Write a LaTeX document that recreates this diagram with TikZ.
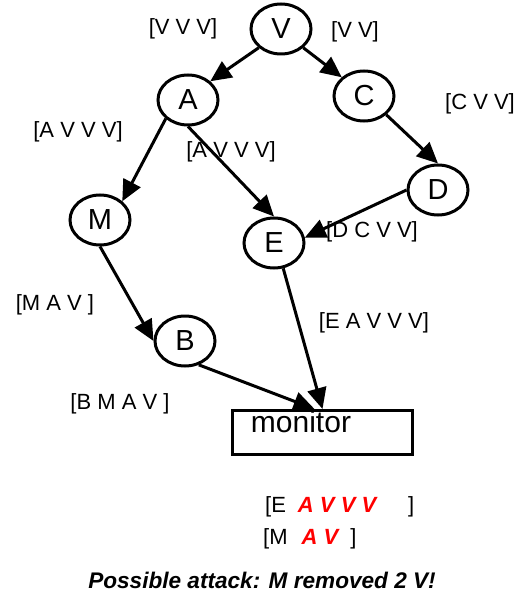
\documentclass[tikz,border=0pt]{standalone}
\usepackage{fontspec}
\setmainfont{Liberation Sans}
\usetikzlibrary{shapes.geometric,arrows.meta,calc}
\begin{document}
\begin{tikzpicture}[x=1pt,y=-1pt,
  vert/.style={ellipse,draw,line width=3pt,inner sep=0pt,minimum width=60pt,minimum height=50pt,font=\fontsize{29}{32}\selectfont},
  conn/.style={line width=3pt,-{Triangle[length=21pt,width=19pt]}},
  lab/.style={font=\fontsize{22}{25}\selectfont,inner sep=0pt}]
\useasboundingbox (0,0) rectangle (526,596);
\node[vert] (V) at (281,29) {V};
\node[vert] (A) at (188,100) {A};
\node[vert] (C) at (364,96) {C};
\node[vert] (D) at (438,190) {D};
\node[vert] (M) at (100,220) {M};
\node[vert] (E) at (274,243) {E};
\node[vert] (B) at (185,341) {B};
\node[draw,line width=3pt,minimum width=180pt,minimum height=44pt,inner sep=0pt] (mon) at (322.5,432.5) {};
\node[font=\fontsize{30}{33}\selectfont,inner sep=0pt] (montext) at (301,422) {monitor};
\coordinate (monB) at ($(mon.north)+(-8,0)$);
\draw[conn] (V.south west) -- (A.north east);
\draw[conn] (V.south east) -- (C.north west);
\draw[conn] (A.south west) -- (M.north east);
\draw[conn] (A.south) -- (E.north);
\draw[conn] (C.south east) -- (D.north);
\draw[conn] (D.west) -- (E.10);
\draw[conn] (M.south) -- (B.west);
\draw[conn] (B.-60) -- (monB);
\draw[conn] (E.-70) -- (mon.north);
\node[lab] (l1) at (183,29) {[V V V]};
\node[lab] (l2) at (355,32) {[V V]};
\node[lab] (l3) at (480,104) {[C V V]};
\node[lab] (l4) at (78,132) {[A V V V]};
\node[lab] (l5) at (231,152) {[A V V V]};
\node[lab] (l6) at (372,232) {[D C V V]};
\node[lab] (l7) at (55,305) {[M A V ]};
\node[lab] (l8) at (374,323) {[E A V V V]};
\node[lab] (l9) at (120,404) {[B M A V ]};
\node[lab,anchor=west] (r1) at (265,507) {[E\hspace{12pt}{\color{red}\bfseries\itshape A V V V}\hspace{32pt}]};
\node[lab,anchor=west] (r2) at (263,539) {[M\hspace{14pt}{\color{red}\bfseries\itshape A V}\hspace{12pt}]};
\node[lab,font=\fontsize{22.6}{25}\selectfont\bfseries\itshape] (warn) at (262,580) {Possible attack: M removed 2 V!};
\end{tikzpicture}
\end{document}
